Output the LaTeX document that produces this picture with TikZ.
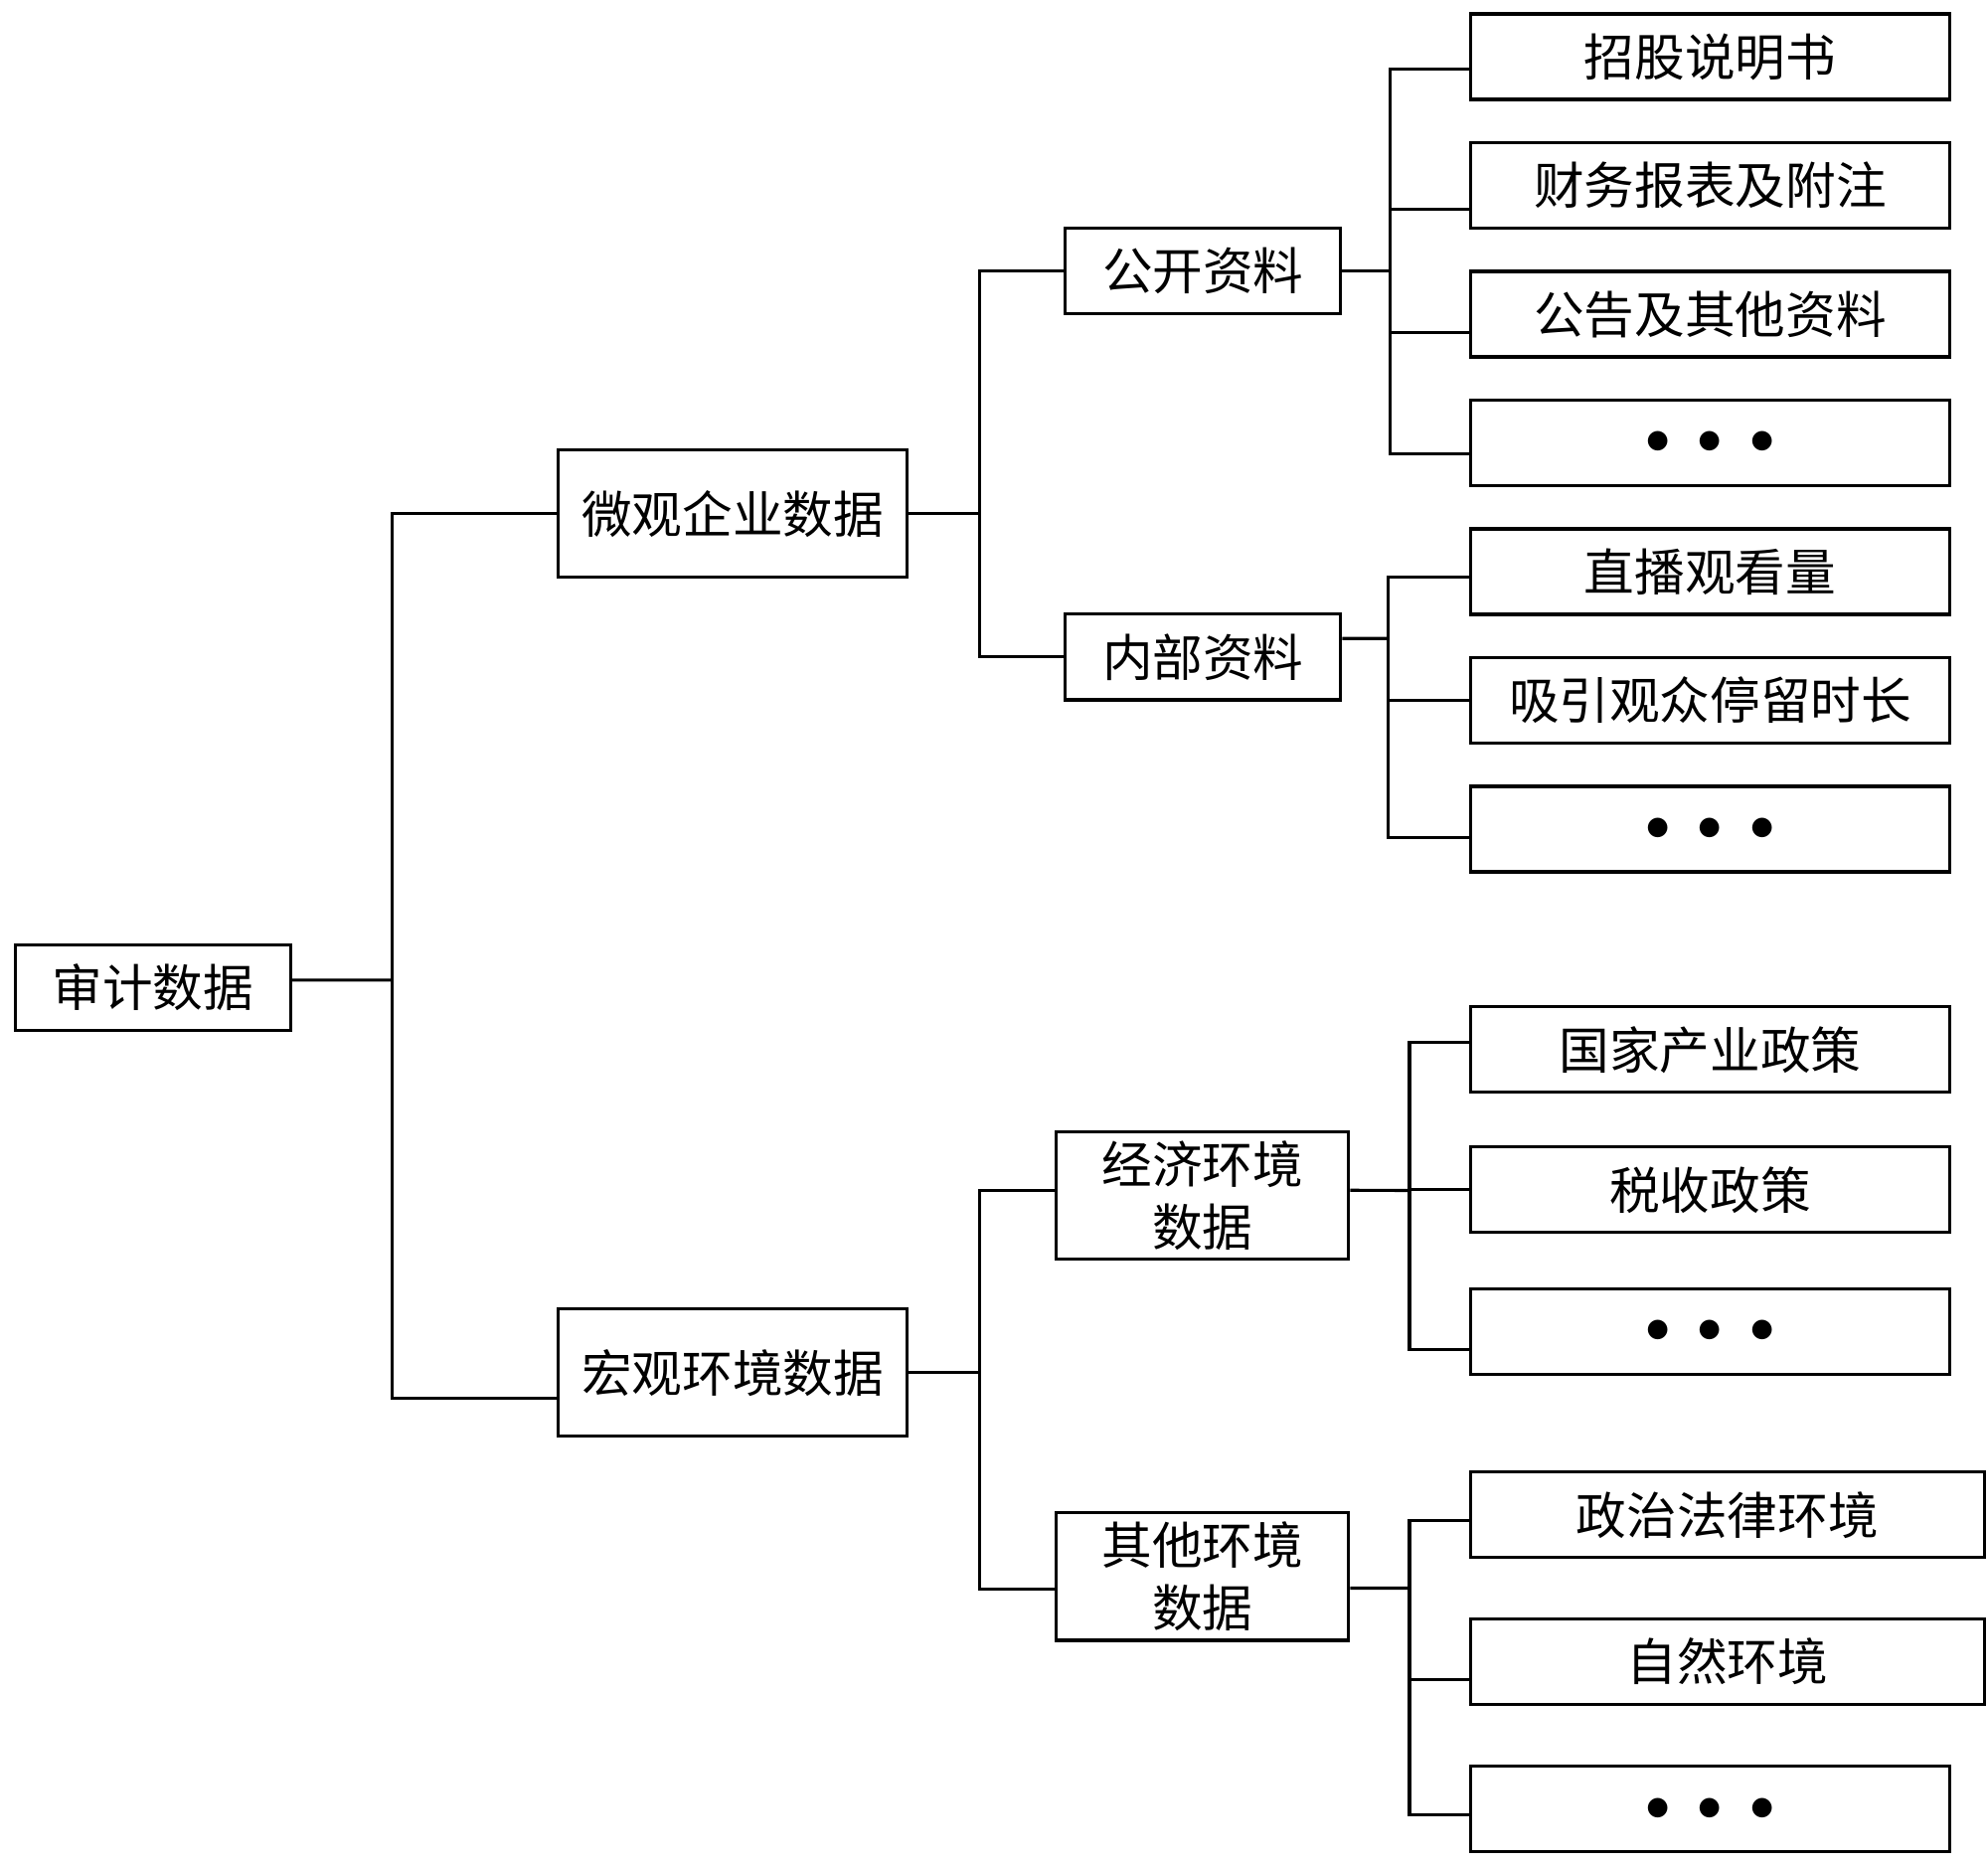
\documentclass[tikz,border=0pt]{standalone}
\usepackage{fontspec}
\newfontfamily\cjk{Noto Sans CJK SC}
\usepackage{tikz}
\newcommand{\threedots}{$\bullet$\hspace{7.7pt}$\bullet$\hspace{7.7pt}$\bullet$}

\begin{document}
\begin{tikzpicture}[x=0.01282cm, y=-0.01282cm, line width=0.9pt,
    box/.style={draw, inner sep=0pt, align=center, font=\cjk\fontsize{14.4pt}{17.8pt}\selectfont},
    small/.style={box, minimum width=2.77cm, minimum height=0.86cm},
    mid/.style={box, minimum width=3.51cm, minimum height=1.28cm},
    env/.style={box, minimum width=2.94cm, minimum height=1.28cm},
    leaf/.style={box, minimum width=4.82cm, minimum height=0.86cm},
    wide/.style={box, minimum width=5.17cm, minimum height=0.86cm}]
  \useasboundingbox (0,0) rectangle (1560,1463);
      \node[small] (SJ) at (120,775) {审计数据};
      \node[mid] (WG) at (575,403) {微观企业数据};
      \node[mid] (HG) at (575,1077) {宏观环境数据};
      \node[small] (GK) at (944,212.5) {公开资料};
      \node[small] (NB) at (944,515.5) {内部资料};
      \node[env] (JJ) at (943.5,938) {经济环境\\数据};
      \node[env] (QT) at (943.5,1237) {其他环境\\数据};
      \node[leaf] (ZG) at (1342,44.5) {招股说明书};
      \node[leaf] (CW) at (1342,145.5) {财务报表及附注};
      \node[leaf] (GG) at (1342,246.5) {公告及其他资料};
      \node[leaf] (D1) at (1342,347.5) {\threedots};
      \node[leaf] (ZB) at (1342,448.5) {直播观看量};
      \node[leaf] (XY) at (1342,549.5) {吸引观众停留时长};
      \node[leaf] (D2) at (1342,650.5) {\threedots};
      \node[leaf] (GJ) at (1342,823.5) {国家产业政策};
      \node[leaf] (SS) at (1342,933.5) {税收政策};
      \node[leaf] (D3) at (1342,1044.5) {\threedots};
      \node[wide] (ZZ) at (1355.5,1188.5) {政治法律环境};
      \node[wide] (ZR) at (1355.5,1303.5) {自然环境};
      \node[leaf] (D4) at (1342,1419.5) {\threedots};
      \coordinate (T0) at (308,769);
      \coordinate (T1) at (769,403);
      \coordinate (T2) at (769,1077);
      \coordinate (T3) at (1091,212.5);
      \coordinate (T4) at (1089,501);
      \coordinate (T5) at (1106,934);
      \coordinate (T6) at (1106,1246);
    \draw ([yshift=2.2pt]SJ.east) -- (T0);
    \draw (T0) |- (WG.west);
    \draw (T0) |- ([yshift=-7.3pt]HG.west);
    \draw (WG.east) -- (T1);
    \draw (T1) |- (GK.west);
    \draw (T1) |- (NB.west);
    \draw (HG.east) -- (T2);
    \draw (T2) |- ([yshift=1.5pt]JJ.west);
    \draw (T2) |- ([yshift=-3.6pt]QT.west);
    \draw (GK.east) -- (T3);
    \foreach \n/\s in {ZG/-3.5pt, CW/-6.7pt, GG/-5.3pt, D1/-3.1pt}
      \draw ([yshift=\s]\n.west) -| (T3);
    \draw ([yshift=5.3pt]NB.east) -- (T4);
    \foreach \n/\s in {ZB/-1.6pt, XY/0pt, D2/-2.4pt}
      \draw ([yshift=\s]\n.west) -| (T4);
    \draw ([yshift=1.5pt]JJ.east) -- (T5);
    \foreach \n/\s in {GJ/2pt, SS/0pt, D3/-5.3pt}
      \draw ([yshift=\s]\n.west) -| (T5);
    \draw ([yshift=-3.3pt]QT.east) -- (T6);
    \foreach \n/\s in {ZZ/-1.6pt, ZR/-5.3pt, D4/-1.6pt}
      \draw ([yshift=\s]\n.west) -| (T6);
\end{tikzpicture}
\end{document}
